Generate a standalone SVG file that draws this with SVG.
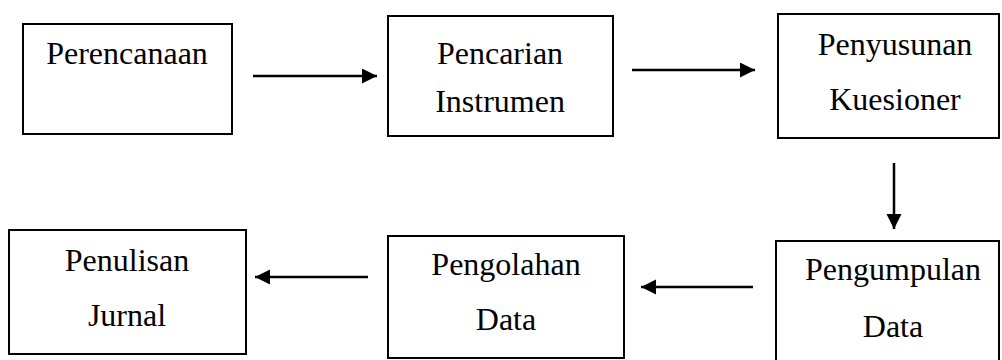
<svg xmlns="http://www.w3.org/2000/svg" width="1002" height="360" viewBox="0 0 1002 360">
<defs>
<marker id="ah" markerUnits="userSpaceOnUse" markerWidth="16" markerHeight="16" refX="15" refY="7.5" orient="auto">
<path d="M0,0 L15,7.5 L0,15 z" fill="#000"/>
</marker>
<style>
.box{fill:#fff;stroke:#000;stroke-width:2}
.t{font-size:32px;fill:#000;text-anchor:middle}
.c{stroke:#000;stroke-width:2.5;fill:none}
</style>
</defs>
<rect width="1002" height="360" fill="#fff"/>
<g font-family="Liberation Serif, Tinos, DejaVu Serif, serif">
<g id="n1"><rect class="box" x="23" y="24" width="209" height="110"/><text class="t" x="127" y="64">Perencanaan</text></g>
<g id="n2"><rect class="box" x="388" y="16" width="225" height="120"/><text class="t" x="500" y="64">Pencarian</text><text class="t" x="500" y="112">Instrumen</text></g>
<g id="n3"><rect class="box" x="778" y="14" width="221" height="124"/><text class="t" x="895" y="55">Penyusunan</text><text class="t" x="895" y="110">Kuesioner</text></g>
<g id="n4"><rect class="box" x="776" y="241" width="223" height="125"/><text class="t" x="893" y="280">Pengumpulan</text><text class="t" x="893" y="337">Data</text></g>
<g id="n5"><rect class="box" x="388" y="236" width="236" height="122"/><text class="t" x="506" y="275">Pengolahan</text><text class="t" x="506" y="330">Data</text></g>
<g id="n6"><rect class="box" x="9" y="230" width="237" height="124"/><text class="t" x="127" y="271">Penulisan</text><text class="t" x="127" y="326">Jurnal</text></g>
</g>
<g id="connectors">
<line class="c" x1="253" y1="76" x2="377" y2="76" marker-end="url(#ah)"/>
<line class="c" x1="632" y1="70" x2="755" y2="70" marker-end="url(#ah)"/>
<line class="c" x1="894" y1="163" x2="894" y2="229" marker-end="url(#ah)"/>
<line class="c" x1="753" y1="287" x2="641" y2="287" marker-end="url(#ah)"/>
<line class="c" x1="368" y1="277" x2="255" y2="277" marker-end="url(#ah)"/>
</g>
</svg>
